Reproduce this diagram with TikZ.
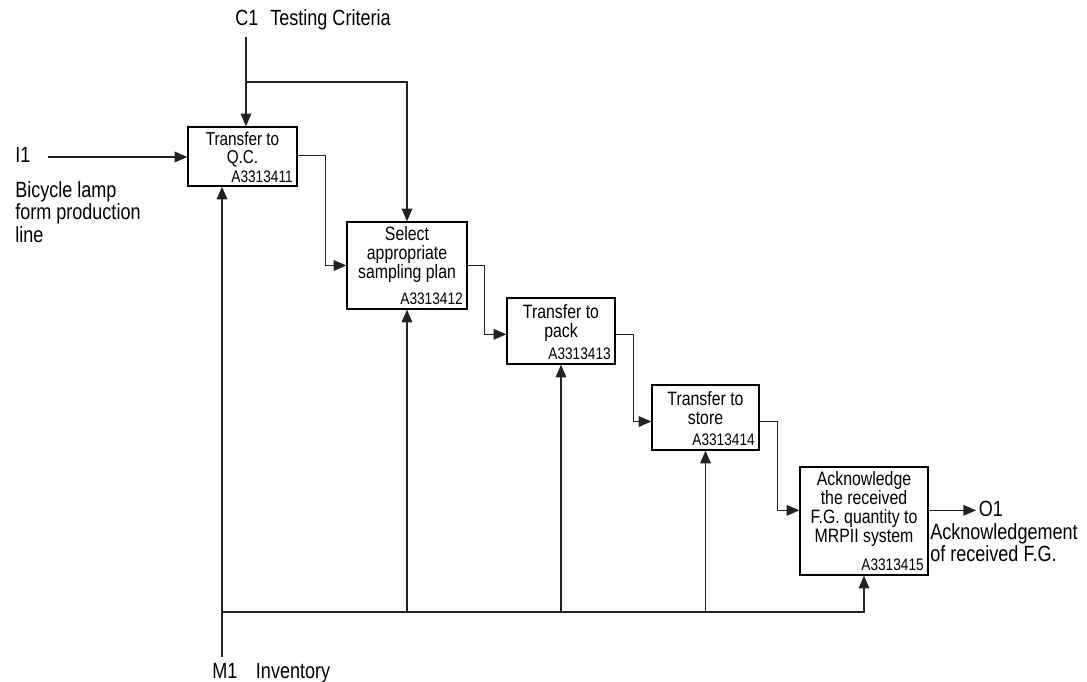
\documentclass[tikz,border=0pt]{standalone}
\usepackage{fontspec}
\setmainfont[FakeStretch=0.82]{Liberation Sans}
\usetikzlibrary{calc, fit, arrows.meta}

\begin{document}
\begin{tikzpicture}[x=0.75pt, y=-0.75pt,
    activity/.style={draw=borderColour, line width=1pt, inner sep=0pt},
    boxText/.style={anchor=north, align=center, inner sep=0pt, font=\fontsize{14.5}{14.25}\selectfont},
    codeText/.style={anchor=south east, inner sep=3.5pt, font=\fontsize{12.5}{14}\selectfont},
    outerText/.style={inner sep=0pt, align=left, font=\fontsize{16.5}{16.5}\selectfont},
    flow/.style={draw=lineColour, line width=0.8pt},
    arrow/.style={flow, -{Triangle[length=9.5pt, width=8pt]}}]

    \definecolor{borderColour}{HTML}{000000}
    \definecolor{lineColour}{HTML}{222222}

    \useasboundingbox (0,0) rectangle (1087,681);

    % Activity boxes
    \node[activity, fit={(188,127) (297,186)}] (A1) {};
    \node[activity, fit={(347,222) (467,309)}] (A2) {};
    \node[activity, fit={(507,298) (615,364)}] (A3) {};
    \node[activity, fit={(652,385) (759,450)}] (A4) {};
    \node[activity, fit={(800,467) (928,575)}] (A5) {};

    % Box texts
    \node[boxText, font=\fontsize{14}{13.6}\selectfont] at ([yshift=-4pt]A1.north) {Transfer to\\Q.C.};
    \node[boxText] at ([yshift=-4pt]A2.north) {Select\\appropriate\\sampling plan};
    \node[boxText] at ([yshift=-5pt]A3.north) {Transfer to\\pack};
    \node[boxText] at ([yshift=-5pt]A4.north) {Transfer to\\store};
    \node[boxText] at ([yshift=-4pt]A5.north) {Acknowledge\\the received\\F.G. quantity to\\MRPII system};
    \node[codeText, inner ysep=2.5pt] at (A1.south east) {A3313411};
    \node[codeText] at (A2.south east) {A3313412};
    \node[codeText] at (A3.south east) {A3313413};
    \node[codeText] at (A4.south east) {A3313414};
    \node[codeText] at (A5.south east) {A3313415};

    % Labels of the arrows
    \node[outerText, anchor=base west] (C1) at (235,26) {C1\hspace{9pt}Testing Criteria};
    \node[outerText, anchor=base west] (I1) at (15,162) {I1};
    \node[outerText, anchor=north west, font=\fontsize{16.5}{16.8}\selectfont] (I1desc) at (15,181) {Bicycle lamp\\form production\\line};
    \node[outerText, anchor=base west, inner xsep=2pt] (O1) at (976,516) {O1};
    \node[outerText, anchor=north west] (O1desc) at (930,523) {Acknowledgement\\of received F.G.};
    \node[outerText, anchor=base west] (M1) at (212,678) {M1\hspace{14pt}Inventory};

    % Control
    \coordinate (C1in) at (246,37);
    \coordinate (C1split) at (246,82);
    \draw[arrow] (C1in) -- (C1in |- A1.north);
    \draw[arrow] (C1split) -| (A2.north);

    % Input
    \coordinate (I1in) at (48,157);
    \draw[arrow] (I1in) -- (I1in -| A1.west);

    % Flow from box to box
    \draw[arrow] ([yshift=0.5pt]A1.east) -- ++(28,0) |- (A2.west);
    \draw[arrow] (A2.east) -- ++(17,0) |- ([yshift=-2.5pt]A3.west);
    \draw[arrow] ([yshift=-2.5pt]A3.east) -- ++(18,0) |- ([yshift=-3pt]A4.west);
    \draw[arrow] ([yshift=-3pt]A4.east) -- ++(18,0) |- ([yshift=8pt]A5.west);

    % Output
    \coordinate (A5out) at ([yshift=8pt]A5.east);
    \draw[arrow] (A5out) -- (A5out -| O1.west);

    % Mechanism
    \coordinate (M1in) at (222,657);
    \coordinate (M1split) at (222,612);
    \draw[arrow] (M1in) -- (M1in |- A1.south);
    \draw[arrow] (M1split) -| (A5.south);
    \foreach \act in {A2,A3,A4}
        \draw[arrow] (M1split -| \act.south) -- (\act.south);

\end{tikzpicture}
\end{document}
